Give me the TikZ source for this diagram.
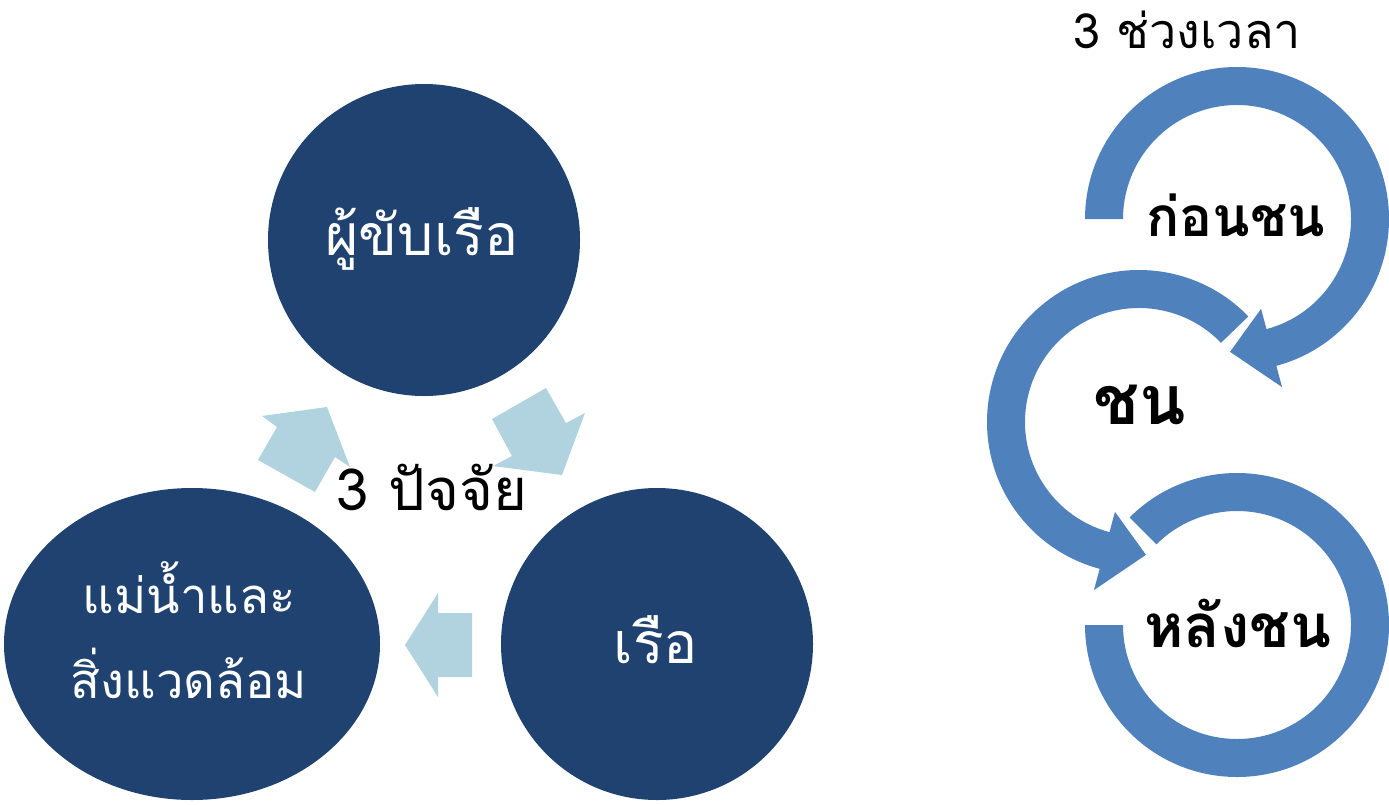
\documentclass[tikz,border=0pt]{standalone}
\usepackage{fontspec}
\newfontfamily\thai[Script=Thai]{Loma}
\usetikzlibrary{shapes.geometric,calc}
\definecolor{navy}{HTML}{1F4270}
\definecolor{lightarrow}{HTML}{B1D3DF}
\definecolor{ringblue}{HTML}{4F81BD}
\tikzset{
  factor/.style={fill=navy,draw=none,inner sep=0pt},
  wlabel/.style={text=white,font=\thai\fontsize{57}{64}\selectfont,anchor=base,inner sep=0pt},
  blabel/.style={text=black,font=\thai\fontsize{58}{64}\selectfont,anchor=base,inner sep=0pt},
  rlabel/.style={text=black,font=\thai\bfseries\fontsize{55}{60}\selectfont,anchor=base,inner sep=0pt},
  flow/.style={fill=lightarrow,draw=none},
  ring/.style={fill=ringblue,draw=none}
}
\begin{document}
\begin{tikzpicture}[x=1pt,y=-1pt]
\useasboundingbox (0,0) rectangle (1389,804);
% factor circles
\node[factor,circle,minimum size=312pt] (driver) at (424,240) {};
\node[factor,ellipse,minimum width=376pt,minimum height=312pt] (river) at (192,644) {};
\node[factor,circle,minimum size=312pt] (boat) at (657,644) {};
\node[wlabel] (driverT) at (422,255) {ผู้ขับเรือ};
\node[wlabel] (boatT) at (656,663) {เรือ};
\node[wlabel,font=\thai\fontsize{49}{56}\selectfont] (riverT1) at (189,613) {แม่น้ำและ};
\node[wlabel,font=\thai\fontsize{49}{56}\selectfont] (riverT2) at (189,698) {สิ่งแวดล้อม};
\node[blabel] (factorsT) at (432,510) {3 ปัจจัย};
% cycle arrows
\fill[flow] (262,416) -- (327,407) -- (350,467) -- (335,457) -- (315,492) -- (258,460) -- (277,427) -- cycle;
\fill[flow] (492,419) -- (546,388) -- (566,423) -- (585,413) -- (562,475) -- (493,466) -- (512,456) -- cycle;
\fill[flow] (405,645) -- (438,593) -- (438,613) -- (472,613) -- (472,677) -- (438,677) -- (438,697) -- cycle;
% time rings
\coordinate (c1) at (1237,219);
\coordinate (c2) at (1139,422);
\coordinate (c3) at (1237,625);
\fill[ring] ($(c1)+(180:152)$) arc[start angle=180,end angle=435,radius=152]
  -- ($(c1)+(435:174)$) -- ($(c1)+(453:133)$) -- ($(c1)+(435:93)$) -- ($(c1)+(435:114)$)
  arc[start angle=435,end angle=180,radius=114] -- cycle;
\fill[ring] ($(c2)+(-44:152)$) arc[start angle=-44,end angle=-255,radius=152]
  -- ($(c2)+(-255:174)$) -- ($(c2)+(-273:133)$) -- ($(c2)+(-255:93)$) -- ($(c2)+(-255:114)$)
  arc[start angle=-255,end angle=-44,radius=114] -- cycle;
\fill[ring] ($(c3)+(-135:152)$) arc[start angle=-135,end angle=180,radius=152]
  -- ($(c3)+(180:114)$) arc[start angle=180,end angle=-135,radius=114] -- cycle;
\node[blabel,font=\thai\fontsize{48.5}{54}\selectfont] (timesT) at (1187,48) {3 ช่วงเวลา};
\node[rlabel] (beforeT) at (1236,236) {ก่อนชน};
\node[rlabel,font=\thai\bfseries\fontsize{68}{72}\selectfont] (hitT) at (1140,424) {ชน};
\node[rlabel,font=\thai\bfseries\fontsize{60}{66}\selectfont] (afterT) at (1238,647) {หลังชน};
\end{tikzpicture}
\end{document}
